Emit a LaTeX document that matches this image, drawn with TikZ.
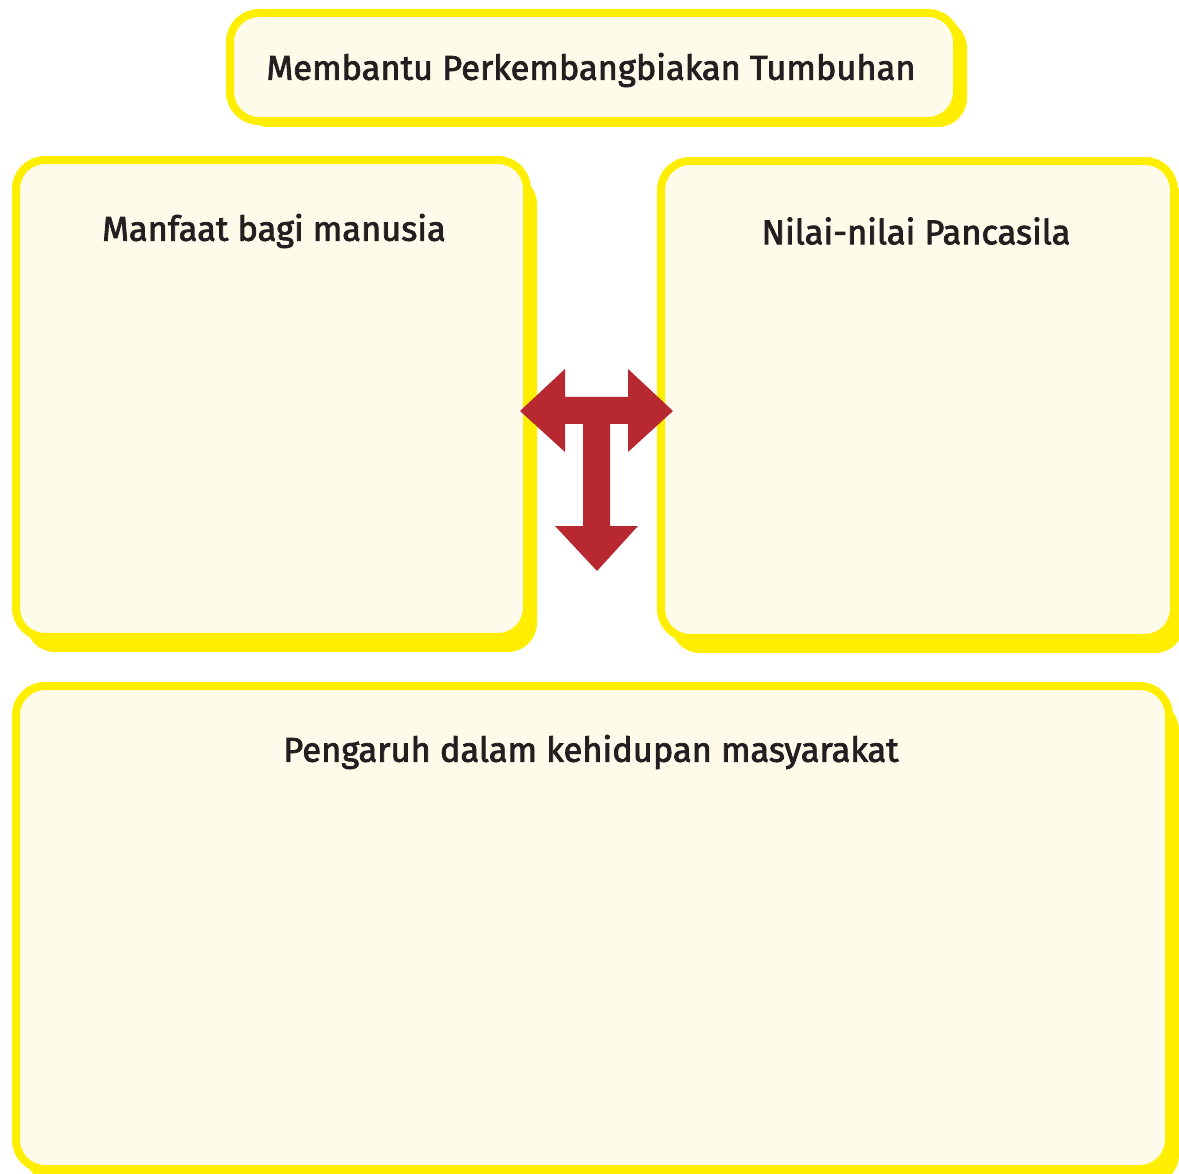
\documentclass[tikz,border=0pt]{standalone}
\usepackage{fontspec}
\setmainfont{Fira Sans}[BoldFont={Fira Sans}, BoldFeatures={FakeBold=2.2}]
\usetikzlibrary{shadows}
\definecolor{boxyellow}{HTML}{FFEE00}
\definecolor{boxcream}{HTML}{FEFBEA}
\definecolor{arrowred}{HTML}{B72830}
\definecolor{inkdark}{HTML}{231F20}
\begin{document}
\begin{tikzpicture}[x=0.1mm, y=-0.1mm,
  panel/.style={draw=boxyellow, fill=boxcream, line width=0.8mm, rounded corners=2.9mm,
    drop shadow={shadow xshift=1mm, shadow yshift=#1, fill=boxyellow, opacity=1}},
  panel/.default=-1.5mm,
  heading/.style={text=inkdark, font=\bfseries\fontsize{9.8}{12}\selectfont}]
\useasboundingbox (0,0) rectangle (1179,1174);

\node[panel=-0.6mm, minimum width=72.7mm, minimum height=10.8mm] (judul) at (593.5,67) {};
\node[panel, minimum width=51.1mm, minimum height=47.7mm] (manfaat) at (271.5,398.5) {};
\node[panel, minimum width=51.3mm, minimum height=47.7mm] (nilai) at (917.5,399.5) {};
\node[panel, minimum width=115.3mm, minimum height=48.3mm] (pengaruh) at (592.5,927.5) {};

\node[heading] (judulText) at (591,70) {Membantu Perkembangbiakan Tumbuhan};
\node[heading] (manfaatText) at (274,231) {Manfaat bagi manusia};
\node[heading] (nilaiText) at (916,231) {Nilai-nilai Pancasila};
\node[heading] (pengaruhText) at (591,752) {Pengaruh dalam kehidupan masyarakat};

% panah tiga arah
\fill[arrowred] (520,411) -- (565,369) -- (565,397) -- (628,397) -- (628,369) -- (673,411)
  -- (628,452) -- (628,424) -- (610,424) -- (610,526) -- (638,526) -- (597,571)
  -- (555,526) -- (583,526) -- (583,424) -- (565,424) -- (565,452) -- cycle;
\end{tikzpicture}
\end{document}
